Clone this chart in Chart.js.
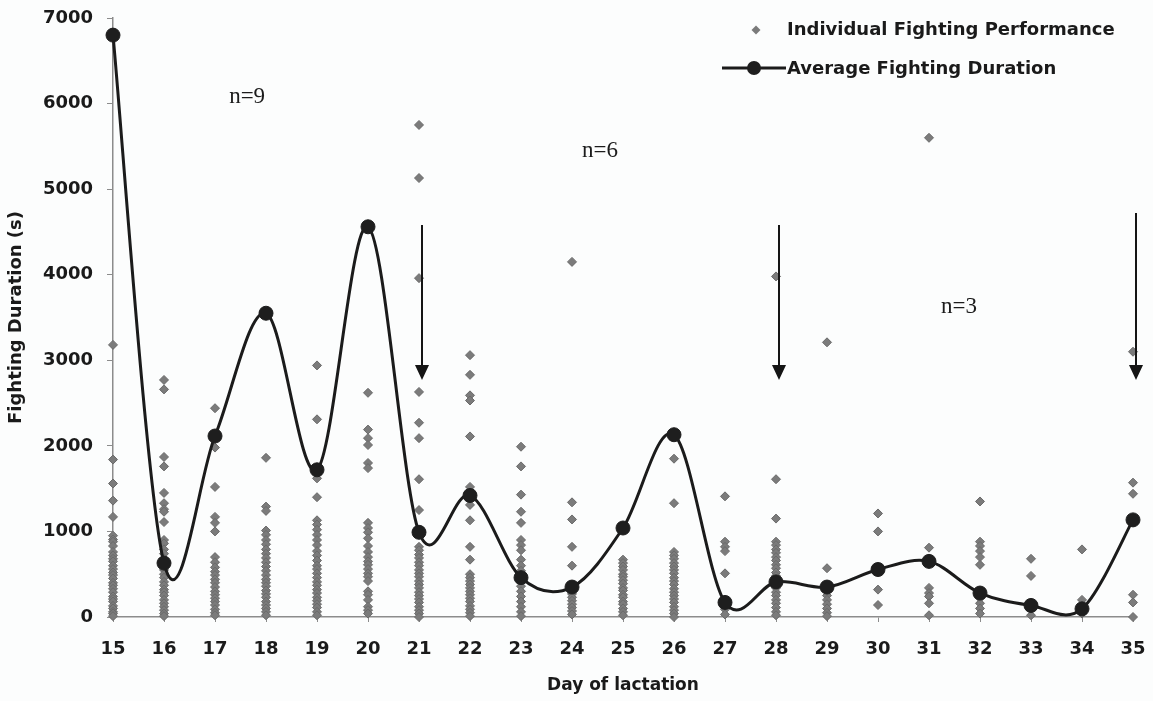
<!DOCTYPE html>
<html>
<head>
<meta charset="utf-8">
<script src="https://cdn.jsdelivr.net/npm/chart.js@4.4.1/dist/chart.umd.min.js"></script>
<style>
html,body{margin:0;padding:0;background:#fcfdfd;}
#wrap{width:1153px;height:701px;position:relative;}
canvas{display:block;}
</style>
</head>
<body>
<div id="wrap"><canvas id="c" width="1153" height="701"></canvas></div>
<script>
// ---------- data ----------
const days = [15,16,17,18,19,20,21,22,23,24,25,26,27,28,29,30,31,32,33,34,35];
const averageDuration = [6800,630,2115,3550,1720,4560,990,1420,460,350,1040,2130,170,410,350,555,650,280,135,95,1135];
const individualByDay = [
  [3180,1840,1560,1360,1170,950,905,880,830,760,720,680,650,600,560,520,490,450,400,370,330,290,240,210,180,130,100,60,40,10],
  [2770,2660,1870,1760,1450,1330,1260,1230,1110,900,860,790,740,680,600,550,500,460,410,370,320,290,250,200,160,120,80,40,10],
  [2440,1980,1520,1170,1100,1000,700,640,580,530,490,440,400,350,300,260,220,180,140,90,50,20],
  [1860,1290,1240,1010,960,900,850,790,740,690,640,590,540,490,440,400,360,310,270,230,180,140,100,60,20],
  [2940,2310,1740,1620,1400,1130,1080,1020,960,900,840,770,720,660,600,560,510,460,410,370,320,280,230,190,150,110,60,20],
  [2620,2190,2090,2010,1800,1740,1100,1040,990,920,830,760,700,650,610,560,510,470,420,300,260,200,120,80,40],
  [5750,5130,3960,2630,2270,2090,1610,1250,820,780,730,690,640,600,550,510,470,420,380,340,290,250,210,170,120,80,40,0],
  [3060,2830,2590,2530,2110,1520,1450,1310,1130,820,670,500,460,420,380,340,300,260,220,180,130,90,50,10],
  [1990,1760,1430,1230,1100,900,840,780,670,600,540,480,420,360,300,240,180,120,60,10],
  [4150,1340,1140,820,600,350,310,270,230,190,150,110,70,30],
  [670,630,590,550,500,470,430,390,340,310,260,230,180,150,100,60,20],
  [1850,1330,760,720,680,630,590,550,510,460,420,380,330,290,250,210,170,120,80,40,0],
  [1410,880,820,770,510,150,90,30],
  [3980,1610,1150,880,840,790,750,700,660,610,570,520,480,430,380,340,290,250,200,160,110,60,20],
  [3210,570,350,300,250,200,150,100,50,10],
  [1210,1000,320,140],
  [5600,810,340,280,240,160,20],
  [1350,880,830,770,700,610,280,220,160,100,40],
  [680,480,120,20],
  [790,200,120,40],
  [3100,1570,1440,260,170,0]
];
const yTickValues = [0,1000,2000,3000,4000,5000,6000,7000];
const arrowDays = [21,28,35];
const arrowStartValues = [4580,4580,4720];
const arrowEndValues = [2770,2770,2770];
const groupLabels = ['n=9','n=6','n=3'];
const groupLabelDays = [17.63,24.55,31.59];
const groupLabelValues = [6005,5374,3551];
const legendLabels = ['Individual Fighting Performance','Average Fighting Duration'];

// ---------- build datasets ----------
const scatterPoints = [];
days.forEach((d, i) => individualByDay[i].forEach(v => scatterPoints.push({x: d, y: v})));
const averagePoints = days.map((d, i) => ({x: d, y: averageDuration[i]}));

const BOLD = 'DejaVu Sans';
const INK = '#1a1a1a';
const AXIS = '#8c8c8c';

// Excel-like (Catmull-Rom) smoothing of the line through the library's own points
const excelSmooth = {
  id: 'excelSmooth',
  beforeDatasetDraw(chart, args) {
    const ds = chart.data.datasets[args.index];
    if (!ds.excelSmooth) return;
    const meta = args.meta;
    const line = meta.dataset;
    if (line && line.updateControlPoints) line.updateControlPoints(chart.chartArea, 'x');
    const pts = meta.data;
    for (let i = 0; i < pts.length; i++) {
      const p = pts[i];
      const prev = pts[Math.max(0, i - 1)];
      const next = pts[Math.min(pts.length - 1, i + 1)];
      const dx = (next.x - prev.x) / 6, dy = (next.y - prev.y) / 6;
      p.cp1x = p.x - dx; p.cp1y = p.y - dy;
      p.cp2x = p.x + dx; p.cp2y = p.y + dy;
    }
    if (line) line._path = undefined;
  }
};

const annotations = {
  id: 'annotations',
  afterDatasetsDraw(chart) {
    const ctx = chart.ctx;
    const xs = chart.scales.x, ys = chart.scales.y;
    ctx.save();
    // arrows
    ctx.strokeStyle = '#151515';
    ctx.fillStyle = '#151515';
    ctx.lineWidth = 2;
    arrowDays.forEach((d, i) => {
      const x = xs.getPixelForValue(d) + 3;
      const y0 = ys.getPixelForValue(arrowStartValues[i]);
      const y1 = ys.getPixelForValue(arrowEndValues[i]);
      ctx.beginPath();
      ctx.moveTo(x, y0);
      ctx.lineTo(x, y1 - 12);
      ctx.stroke();
      ctx.beginPath();
      ctx.moveTo(x - 7, y1 - 15);
      ctx.lineTo(x + 7, y1 - 15);
      ctx.lineTo(x, y1);
      ctx.closePath();
      ctx.fill();
    });
    // n= labels
    ctx.font = '23px "Liberation Serif", "Times New Roman", serif';
    ctx.fillStyle = '#1c1c1c';
    ctx.textAlign = 'center';
    ctx.textBaseline = 'alphabetic';
    groupLabels.forEach((t, i) => {
      ctx.fillText(t, xs.getPixelForValue(groupLabelDays[i]), ys.getPixelForValue(groupLabelValues[i]));
    });
    // legend
    ctx.textAlign = 'left';
    ctx.font = 'bold 18px "' + BOLD + '"';
    const lx = 787;
    ctx.fillStyle = '#7b7b7b';
    ctx.beginPath();
    ctx.moveTo(756 - 4.5, 30); ctx.lineTo(756, 30 - 4.5); ctx.lineTo(756 + 4.5, 30); ctx.lineTo(756, 30 + 4.5);
    ctx.closePath(); ctx.fill();
    ctx.fillStyle = INK;
    ctx.fillText(legendLabels[0], lx, 35);
    ctx.strokeStyle = '#1b1b1b';
    ctx.lineWidth = 3;
    ctx.beginPath(); ctx.moveTo(722, 68); ctx.lineTo(786, 68); ctx.stroke();
    ctx.fillStyle = '#1e1e1e';
    ctx.beginPath(); ctx.arc(754, 68, 7, 0, Math.PI * 2); ctx.fill();
    ctx.fillStyle = INK;
    ctx.fillText(legendLabels[1], lx, 74);
    ctx.restore();
  }
};

const bg = {
  id: 'bg',
  beforeDraw(chart) {
    const c = chart.ctx;
    c.save(); c.fillStyle = '#fcfdfd'; c.fillRect(0, 0, chart.width, chart.height); c.restore();
  }
};

new Chart(document.getElementById('c'), {
  type: 'scatter',
  data: {
    datasets: [
      {
        label: legendLabels[1],
        data: averagePoints,
        showLine: true,
        excelSmooth: true,
        tension: 0.4,
        borderColor: '#1b1b1b',
        borderWidth: 3,
        pointRadius: 7,
        pointBackgroundColor: '#1e1e1e',
        pointBorderColor: '#1e1e1e',
        pointBorderWidth: 1,
        clip: false,
        order: 0
      },
      {
        label: legendLabels[0],
        data: scatterPoints,
        pointStyle: 'rectRot',
        pointRadius: 4.5,
        backgroundColor: '#7b7b7b',
        borderColor: '#6a6a6a',
        borderWidth: 1,
        clip: false,
        order: 1
      }
    ]
  },
  options: {
    responsive: false,
    animation: false,
    devicePixelRatio: 1,
    layout: {padding: {left: 0, right: 20, top: 18, bottom: 0}},
    plugins: {legend: {display: false}, tooltip: {enabled: false}},
    scales: {
      x: {
        type: 'linear',
        min: 15, max: 35,
        afterBuildTicks: s => { s.ticks = days.map(v => ({value: v})); },
        afterFit: s => { s.height = 84; s.paddingLeft = 0; s.paddingRight = 0; },
        ticks: {
          autoSkip: false,
          callback: v => String(v),
          font: {family: BOLD, weight: 'bold', size: 18},
          color: INK,
          padding: 17,
          maxRotation: 0
        },
        grid: {display: true, drawOnChartArea: false, tickLength: 5, color: AXIS},
        border: {display: true, color: AXIS, width: 1.5},
        title: {
          display: true,
          text: 'Day of lactation',
          font: {family: BOLD, weight: 'bold', size: 17},
          color: INK,
          padding: {top: 0, bottom: 5}
        }
      },
      y: {
        min: 0, max: 7000,
        afterBuildTicks: s => { s.ticks = yTickValues.map(v => ({value: v})); },
        afterFit: s => { s.width = 113; s.paddingTop = 0; s.paddingBottom = 0; },
        ticks: {
          callback: v => String(v),
          font: {family: BOLD, weight: 'bold', size: 18},
          color: INK,
          padding: 14
        },
        grid: {display: true, drawOnChartArea: false, tickLength: 6, color: AXIS},
        border: {display: true, color: AXIS, width: 1.5},
        title: {
          display: true,
          text: 'Fighting Duration (s)',
          font: {family: BOLD, weight: 'bold', size: 18},
          color: INK,
          padding: {top: 6, bottom: 0}
        }
      }
    }
  },
  plugins: [bg, excelSmooth, annotations]
});
</script>
</body>
</html>
